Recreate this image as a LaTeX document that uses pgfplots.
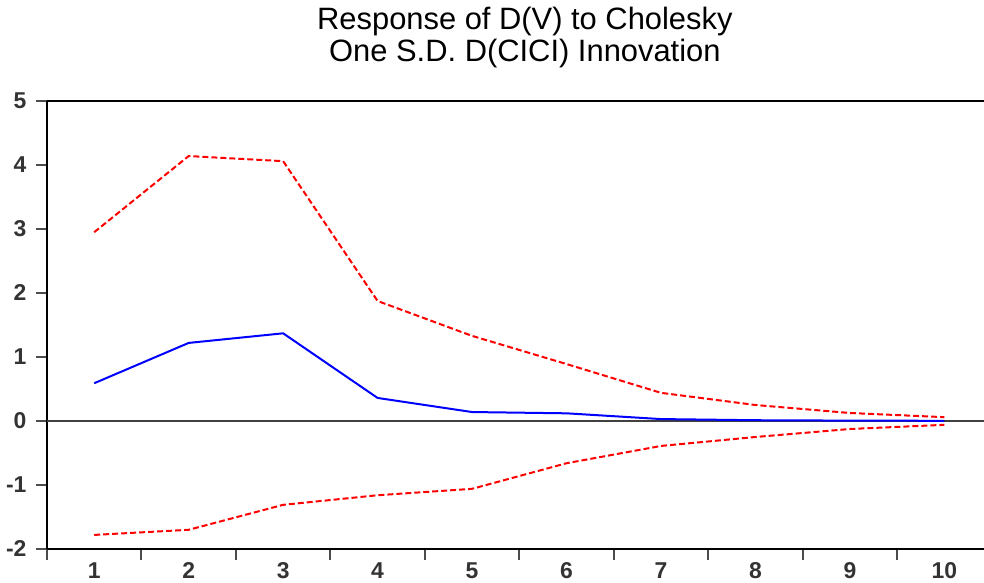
\documentclass[border=0pt]{standalone}
\usepackage{pgfplots}
\pgfplotsset{compat=1.18}
\usepackage{fontspec}
\setmainfont{Liberation Sans}
\begin{document}
\begin{tikzpicture}
\begin{axis}[
  name=ax,
  scale only axis,
  width=937bp, height=448bp,
  xmin=0.5, xmax=10.42,
  ymin=-2, ymax=5,
  axis lines=left,
  axis line style={black, line width=1.6bp, -},
  xtick={1,...,10},
  minor xtick={0.5,1.5,...,9.5},
  ytick={-2,-1,0,1,2,3,4,5},
  major tick length=11bp,
  minor tick length=11bp,
  xtick style={draw=none},
  minor x tick style={draw=black!70, line width=2bp},
  ytick style={draw=black!70, line width=2bp},
  xtick align=outside, ytick align=outside,
  tick label style={font=\fontsize{23}{26}\selectfont\bfseries, text=black!80},
  yticklabel style={xshift=-6bp},
  xticklabel style={yshift=1bp},
  /pgf/number format/assume math mode=true,
  clip=false,
  title={Response of D(V) to Cholesky\\One S.D. D(CICI) Innovation},
  title style={align=center, font=\fontsize{31}{32}\selectfont, at={(0.51,1)}, yshift=24bp},
]
\draw[black, line width=1.6bp] (rel axis cs:0,1) -- (rel axis cs:1,1);
\draw[black!75, line width=1.6bp] (axis cs:0.5,0) -- (axis cs:10.42,0);
\addplot[red, dash pattern=on 6bp off 3bp, line width=2bp] coordinates {
(1,2.95) (2,4.14) (3,4.06) (4,1.875) (5,1.33) (6,0.89) (7,0.44) (8,0.25) (9,0.125) (10,0.06)};
\addplot[red, dash pattern=on 6bp off 3bp, line width=2bp] coordinates {
(1,-1.78) (2,-1.70) (3,-1.31) (4,-1.16) (5,-1.06) (6,-0.66) (7,-0.39) (8,-0.25) (9,-0.125) (10,-0.06)};
\addplot[blue, line width=2bp] coordinates {
(1,0.59) (2,1.22) (3,1.37) (4,0.36) (5,0.14) (6,0.12) (7,0.03) (8,0.012) (9,0.006) (10,0.003)};
\end{axis}
\pgfresetboundingbox
\useasboundingbox ([xshift=-47bp,yshift=-34bp]ax.south west) rectangle ([yshift=101bp]ax.north east);
\end{tikzpicture}
\end{document}
